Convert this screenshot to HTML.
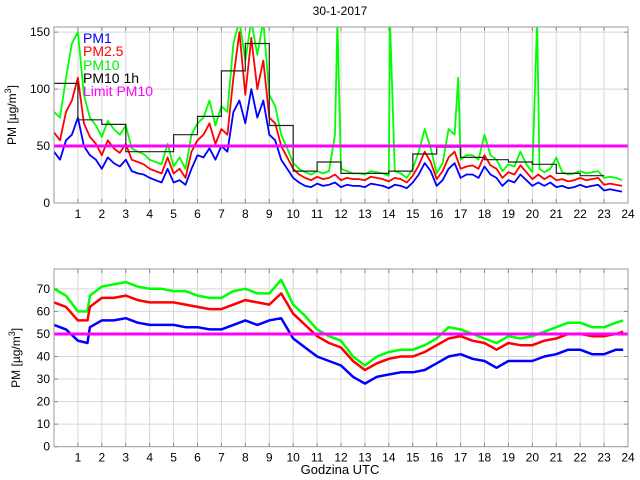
<!DOCTYPE html>
<html><head><meta charset="utf-8"><style>
body{margin:0;background:#fff;}
svg{display:block;font-family:"Liberation Sans",sans-serif;}
</style></head><body>
<svg id="chart" width="640" height="480" viewBox="0 0 640 480"></svg>
<script>
const topHours=[0,0.25,0.5,0.75,1,1.25,1.5,1.75,2,2.25,2.5,2.75,3,3.25,3.5,3.75,4,4.25,4.5,4.75,5,5.25,5.5,5.75,6,6.25,6.5,6.75,7,7.25,7.5,7.75,8,8.25,8.5,8.75,9,9.25,9.5,9.75,10,10.25,10.5,10.75,11,11.25,11.5,11.75,12,12.25,12.5,12.75,13,13.25,13.5,13.75,14,14.25,14.5,14.75,15,15.25,15.5,15.75,16,16.25,16.5,16.75,17,17.25,17.5,17.75,18,18.25,18.5,18.75,19,19.25,19.5,19.75,20,20.25,20.5,20.75,21,21.25,21.5,21.75,22,22.25,22.5,22.75,23,23.25,23.5,23.75];
const topPM1=[45,38,55,60,75,50,42,38,30,40,35,32,38,28,26,25,22,20,18,30,18,20,16,30,42,40,48,38,50,45,80,90,70,100,75,90,60,55,38,30,22,18,15,14,17,15,16,18,14,16,15,15,14,17,16,15,13,16,15,13,18,25,35,28,15,20,30,35,22,25,25,22,32,25,22,15,20,18,25,20,15,18,15,18,14,15,13,14,16,14,15,16,11,12,11,10];
const topPM25=[62,55,80,90,110,70,58,52,42,55,48,44,52,38,36,34,30,28,26,40,26,30,22,45,55,60,70,52,65,60,110,150,95,145,100,125,75,70,50,40,30,25,22,20,23,21,22,25,20,22,21,21,20,23,22,21,19,22,21,18,24,33,45,36,21,28,40,45,30,32,33,30,42,33,30,22,27,25,33,27,21,25,21,24,20,21,19,20,22,20,21,22,16,17,16,15];
const pm10Hours=[0,0.25,0.5,0.75,1,1.25,1.5,1.75,2,2.25,2.5,2.75,3,3.25,3.5,3.75,4,4.25,4.5,4.75,5,5.25,5.5,5.75,6,6.25,6.5,6.75,7,7.25,7.5,7.75,8,8.25,8.5,8.75,9,9.25,9.5,9.75,10,10.25,10.5,10.75,11,11.25,11.5,11.75,11.85,12,12.25,12.5,12.75,13,13.25,13.5,13.75,14,14.05,14.25,14.5,14.75,15,15.25,15.5,15.75,16,16.25,16.5,16.75,16.9,17,17.25,17.5,17.75,18,18.25,18.5,18.75,19,19.25,19.5,19.75,20,20.2,20.3,20.5,20.75,21,21.25,21.5,21.75,22,22.25,22.5,22.75,23,23.25,23.5,23.75];
const topPM10=[80,75,110,140,150,95,75,68,58,72,65,60,68,48,45,43,38,36,34,52,32,40,30,60,70,75,90,68,85,80,140,160,125,160,130,160,95,85,60,48,35,30,27,25,28,26,28,60,160,30,28,26,26,25,28,27,26,24,160,28,26,22,30,45,65,48,26,35,65,60,110,38,42,42,38,60,42,38,28,34,32,45,34,27,160,30,27,30,40,27,25,26,28,26,27,28,22,23,22,20];
const hourlyStarts=[0,1,2,3,4,5,6,7,8,9,10,11,12,13,14,15,16,17,18,19,20,21,22];
const hourlyPM10=[105,73,69,45,45,60,76,116,140,68,28,36,26,26,28,43,49,40,38,36,34,26,24];
const botHours=[0,0.5,1,1.4,1.5,2,2.5,3,3.5,4,4.5,5,5.5,6,6.5,7,7.5,8,8.5,9,9.5,10,10.5,11,11.5,12,12.5,13,13.5,14,14.5,15,15.5,16,16.5,17,17.5,18,18.5,19,19.5,20,20.5,21,21.5,22,22.5,23,23.5,23.8];
const botPM1=[54,52,47,46,53,56,56,57,55,54,54,54,53,53,52,52,54,56,54,56,57,48,44,40,38,36,31,28,31,32,33,33,34,37,40,41,39,38,35,38,38,38,40,41,43,43,41,41,43,43];
const botPM25=[64,62,56,56,62,66,66,67,65,64,64,64,63,62,61,61,63,65,64,63,68,59,54,49,46,44,38,34,37,39,40,40,42,45,48,49,47,46,43,46,45,45,47,48,50,50,49,49,50,51];
const botPM10=[70,67,60,60,67,71,72,73,71,70,70,69,69,67,66,66,69,70,68,68,74,63,58,52,49,47,40,36,40,42,43,43,45,48,53,52,50,48,46,49,48,49,51,53,55,55,53,53,55,56];
const limitValue=50;
const xTickLabels=['1','2','3','4','5','6','7','8','9','10','11','12','13','14','15','16','17','18','19','20','21','22','23','24'];
const topYTicks=[0,50,100,150];
const botYTicks=[0,10,20,30,40,50,60,70];

const NS='http://www.w3.org/2000/svg';
const svg=document.getElementById('chart');
function mk(tag,attrs,parent){const e=document.createElementNS(NS,tag);for(const k in attrs)e.setAttribute(k,attrs[k]);(parent||svg).appendChild(e);return e;}
const X0=54,X1=628;
function xs(h){return X0+(h/24)*(X1-X0);}
function makePanel(name,top,bottom,ymax,yTicks,showLabel){
  const ys=v=>bottom-(v/ymax)*(bottom-top);
  const g=mk('g',{});
  
  
  const cid='clip-'+name;
  const cp=mk('clipPath',{id:cid},g);
  mk('rect',{x:X0,y:top,width:X1-X0,height:bottom-top},cp);
  const grid=mk('g',{stroke:'#d8d8d8','stroke-width':1},g);
  
  
  for(let i=1;i<24;i++){mk('line',{x1:xs(i),x2:xs(i),y1:top,y2:bottom},grid);}
  yTicks.forEach(v=>{if(v>0)mk('line',{x1:X0,x2:X1,y1:ys(v),y2:ys(v)},grid);});
  const ticks=mk('g',{stroke:'#888','stroke-width':1},g);
  for(let i=1;i<24;i++){mk('line',{x1:xs(i),x2:xs(i),y1:bottom,y2:bottom-4},ticks);mk('line',{x1:xs(i),x2:xs(i),y1:top,y2:top+4},ticks);}
  yTicks.forEach(v=>{mk('line',{x1:X0,x2:X0+4,y1:ys(v),y2:ys(v)},ticks);mk('line',{x1:X1,x2:X1-4,y1:ys(v),y2:ys(v)},ticks);});
  const xl=mk('g',{'font-size':12,'text-anchor':'middle',fill:'#000'},g);
  
  
  xTickLabels.forEach((t,i)=>{const e=mk('text',{x:xs(i+1),y:bottom+15},xl);e.textContent=t;});
  const yl=mk('g',{'font-size':12,'text-anchor':'end',fill:'#000'},g);
  
  
  yTicks.forEach(v=>{const e=mk('text',{x:X0-4,y:ys(v)+4},yl);e.textContent=v;});
  const yt=mk('text',{x:0,y:0,'font-size':12,'text-anchor':'middle',transform:`translate(${showLabel},${(top+bottom)/2}) rotate(-90)`},g);
  
  
  yt.innerHTML='PM [\u00B5g/m<tspan dy="-5" font-size="9">3</tspan><tspan dy="5">]</tspan>';
  const plot=mk('g',{'clip-path':`url(#${cid})`},g);
  return {ys,plot,g,top,bottom};
}
function line(p,hours,vals,color,w,nm){
  const d=hours.map((h,i)=>(i?'L':'M')+xs(h).toFixed(1)+' '+p.ys(vals[i]).toFixed(1)).join(' ');
  const e=mk('path',{d,fill:'none',stroke:color,'stroke-width':w,'stroke-linejoin':'round'},p.plot);
  
  
}
function steps(p,starts,vals,nm){
  let d='';
  starts.forEach((s,i)=>{const y=p.ys(vals[i]).toFixed(1);d+=(i?'L':'M')+xs(s).toFixed(1)+' '+y+' L'+xs(s+1).toFixed(1)+' '+y+' ';});
  const e=mk('path',{d,fill:'none',stroke:'#222','stroke-width':1.2},p.plot);
  
  
}
function limit(p,nm){
  const e=mk('line',{x1:X0,x2:X1,y1:p.ys(limitValue),y2:p.ys(limitValue),stroke:'#ff00ff','stroke-width':3},p.plot);
  
  
}
function frame(p){mk('rect',{x:X0,y:p.top,width:X1-X0,height:p.bottom-p.top,fill:'none',stroke:'#999','stroke-width':1},p.g);}

const tp=makePanel('top-panel',27,203,154.5,topYTicks,16);
line(tp,pm10Hours,topPM10,'#00ff00',1.8,'top-pm10-line');
line(tp,topHours,topPM25,'#ff0000',1.8,'top-pm25-line');
line(tp,topHours,topPM1,'#0000ff',1.8,'top-pm1-line');
steps(tp,hourlyStarts,hourlyPM10,'top-pm10-1h-steps');
limit(tp,'top-limit-line');
frame(tp);

const bp=makePanel('bottom-panel',269,446.7,78.8,botYTicks,20);
line(bp,botHours,botPM10,'#00ff00',2.5,'bottom-pm10-line');
line(bp,botHours,botPM25,'#ff0000',2.5,'bottom-pm25-line');
line(bp,botHours,botPM1,'#0000ff',2.5,'bottom-pm1-line');
limit(bp,'bottom-limit-line');
frame(bp);
</script>
<div style="position:absolute;left:0;top:0;width:640px;height:480px;pointer-events:none;font-family:'Liberation Sans',sans-serif;">
  <div style="position:absolute;left:0;width:680px;top:4px;text-align:center;font-size:12px;">30-1-2017</div>
  <div style="position:absolute;left:0;width:680px;top:462px;text-align:center;font-size:13px;">Godzina UTC</div>
  <div style="position:absolute;left:83px;top:32px;font-size:14px;line-height:13.3px;">
    <div style="color:#0000ff">PM1</div>
    <div style="color:#ff0000">PM2.5</div>
    <div style="color:#00ee00">PM10</div>
    <div style="color:#000">PM10 1h</div>
    <div style="color:#ff00ff">Limit PM10</div>
  </div>
</div>
</body></html>
